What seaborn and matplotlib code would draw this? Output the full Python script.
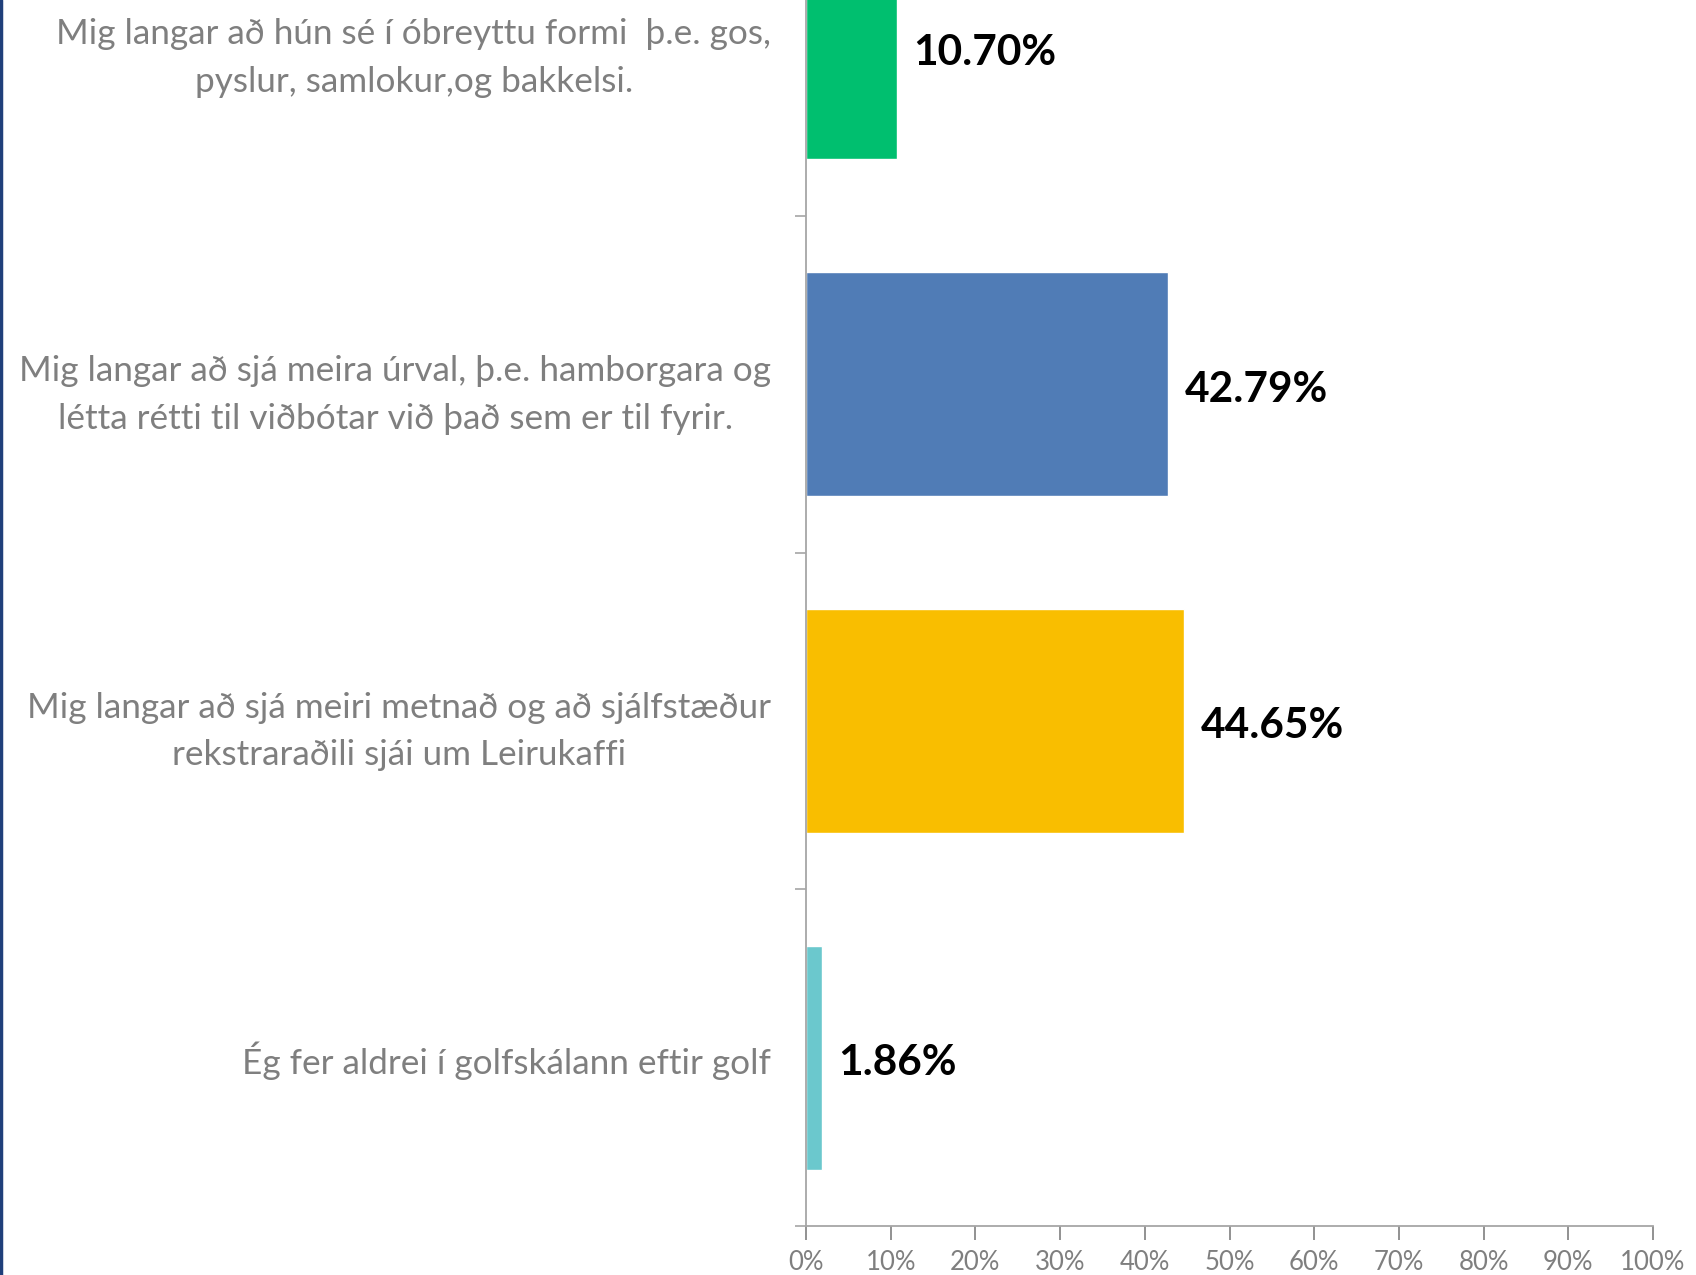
import matplotlib
matplotlib.use("Agg")
import matplotlib.pyplot as plt
import seaborn as sns
from matplotlib.ticker import FixedLocator, PercentFormatter

# --- DATA
categories = [
    "Mig langar að hún sé í óbreyttu formi  þ.e. gos,\npyslur, samlokur,og bakkelsi.",
    "Mig langar að sjá meira úrval, þ.e. hamborgara og\nlétta rétti til viðbótar við það sem er til fyrir.",
    "Mig langar að sjá meiri metnað og að sjálfstæður\nrekstraraðili sjái um Leirukaffi",
    "Ég fer aldrei í golfskálann eftir golf",
]
values = [10.70, 42.79, 44.65, 1.86]
bar_colors = ["#00BF6F", "#507CB6", "#F9BE00", "#6BC8CD"]
x_ticks = [0, 10, 20, 30, 40, 50, 60, 70, 80, 90, 100]

# --- STYLE
sns.set_style("white")
plt.rcParams["font.family"] = ["Lato", "DejaVu Sans"]

fig = plt.figure(figsize=(16.96, 12.75), dpi=100)
# plot area runs past the top edge, like the cropped original
ax = fig.add_axes([806 / 1696, 1 - 1226 / 1275, 847 / 1696, 1347 / 1275])

sns.barplot(x=values, y=categories, hue=categories, palette=bar_colors,
            legend=False, width=0.665, orient="h", saturation=1, ax=ax)

ax.set_xlim(0, 100)
ax.set_ylim(3.5, -0.5)
ax.xaxis.set_major_locator(FixedLocator(x_ticks))
ax.xaxis.set_major_formatter(PercentFormatter(decimals=0))
ax.set_xlabel("")
ax.set_ylabel("")

for s in ["top", "right"]:
    ax.spines[s].set_visible(False)
for s in ["left", "bottom"]:
    ax.spines[s].set_color("#A6A6A6")
    ax.spines[s].set_linewidth(1.3)

ax.tick_params(axis="x", direction="out", length=10, width=1.2, color="#7F7F7F",
               labelsize=18.5, labelcolor="#7F7F7F", pad=7, bottom=True)
ax.tick_params(axis="y", which="major", length=0, pad=25,
               labelsize=25.3, labelcolor="#7F7F7F")
ax.set_yticks([0.5, 1.5, 2.5, 3.5], minor=True)
ax.tick_params(axis="y", which="minor", direction="out", length=8, width=1.2,
               color="#A6A6A6", left=True)
for lab in ax.get_yticklabels():
    lab.set_multialignment("center")
    lab.set_linespacing(1.6)

for cont in ax.containers:
    texts = ax.bar_label(cont, fmt="{:.2f}%", padding=12, fontsize=30.5,
                         fontweight="bold", color="black")
    for t in texts:
        t.xyann = (12, -4)

# dark edge line at the left border of the slide
fig.add_artist(plt.Line2D([0.0008, 0.0008], [0, 1], color="#1F3F7A", lw=2.5,
                          transform=fig.transFigure))

fig.savefig("out.png", dpi=100)
